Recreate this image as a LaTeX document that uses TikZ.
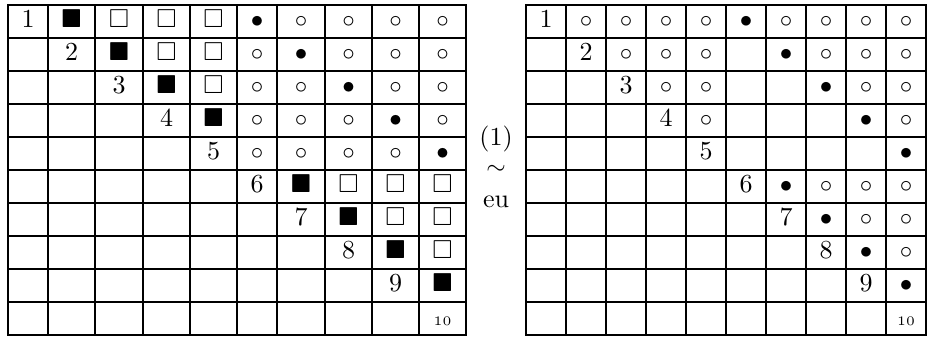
\documentclass[tikz,border=0pt]{standalone}
\usepackage{amssymb}
\newcommand\myB{$\blacksquare$}
\newcommand\myW{$\square$}
\newcommand\myb{$\bullet$}
\newcommand\myw{$\circ$}
\tikzset{
  gridline/.style={line width=0.7pt, line cap=rect},
  cell/.style={inner sep=0pt, anchor=base, font=\fontsize{10.4}{12}\selectfont},
  smallcell/.style={inner sep=0pt, anchor=base, font=\fontsize{5.2}{6}\selectfont},
  midtext/.style={inner sep=0pt, font=\fontsize{10.4}{12}\selectfont}
}
\begin{document}
\begin{tikzpicture}[x=0.4pt,y=-0.4pt]
\useasboundingbox (0,0) rectangle (928,340);
% left grid
\foreach \x in {8,48,95,143,190,237,277,325,372,419,466}
  \draw[gridline] (\x,5) -- (\x,335);
\foreach \k in {0,...,10}
  \draw[gridline] (8,{5+33*\k}) -- (466,{5+33*\k});
% right grid
\foreach \k in {0,...,10}
  \draw[gridline] ({526+40*\k},5) -- ({526+40*\k},335);
\foreach \k in {0,...,10}
  \draw[gridline] (526,{5+33*\k}) -- (926,{5+33*\k});
% left contents
\def\LX{{28,71.5,119,166.5,213.5,257,301,348.5,395.5,442.5}}
\foreach \r/\c/\s in {
  1/1/1, 1/2/\myB, 1/3/\myW, 1/4/\myW, 1/5/\myW, 1/6/\myb, 1/7/\myw, 1/8/\myw, 1/9/\myw, 1/10/\myw,
  2/2/2, 2/3/\myB, 2/4/\myW, 2/5/\myW, 2/6/\myw, 2/7/\myb, 2/8/\myw, 2/9/\myw, 2/10/\myw,
  3/3/3, 3/4/\myB, 3/5/\myW, 3/6/\myw, 3/7/\myw, 3/8/\myb, 3/9/\myw, 3/10/\myw,
  4/4/4, 4/5/\myB, 4/6/\myw, 4/7/\myw, 4/8/\myw, 4/9/\myb, 4/10/\myw,
  5/5/5, 5/6/\myw, 5/7/\myw, 5/8/\myw, 5/9/\myw, 5/10/\myb,
  6/6/6, 6/7/\myB, 6/8/\myW, 6/9/\myW, 6/10/\myW,
  7/7/7, 7/8/\myB, 7/9/\myW, 7/10/\myW,
  8/8/8, 8/9/\myB, 8/10/\myW,
  9/9/9, 9/10/\myB}{
  \pgfmathsetmacro\xx{\LX[\c-1]}
  \pgfmathsetmacro\yy{5+33*(\r-1)+22.3}
  \node[cell] (L\r-\c) at (\xx,\yy) {\s};
}
\node[smallcell] (L10-10) at (442.5,325) {10};
% right contents
\foreach \r/\c/\s in {
  1/1/1, 1/2/\myw, 1/3/\myw, 1/4/\myw, 1/5/\myw, 1/6/\myb, 1/7/\myw, 1/8/\myw, 1/9/\myw, 1/10/\myw,
  2/2/2, 2/3/\myw, 2/4/\myw, 2/5/\myw, 2/7/\myb, 2/8/\myw, 2/9/\myw, 2/10/\myw,
  3/3/3, 3/4/\myw, 3/5/\myw, 3/8/\myb, 3/9/\myw, 3/10/\myw,
  4/4/4, 4/5/\myw, 4/9/\myb, 4/10/\myw,
  5/5/5, 5/10/\myb,
  6/6/6, 6/7/\myb, 6/8/\myw, 6/9/\myw, 6/10/\myw,
  7/7/7, 7/8/\myb, 7/9/\myw, 7/10/\myw,
  8/8/8, 8/9/\myb, 8/10/\myw,
  9/9/9, 9/10/\myb}{
  \pgfmathsetmacro\xx{546+40*(\c-1)}
  \pgfmathsetmacro\yy{5+33*(\r-1)+22.3}
  \node[cell] (R\r-\c) at (\xx,\yy) {\s};
}
\node[smallcell] (R10-10) at (906,325) {10};
% middle text
\node[midtext, anchor=base] (eqn) at (496,145) {(1)};
\node[midtext] (sim) at (496,170) {$\sim$};
\node[midtext, anchor=base] (eu) at (496,207) {eu};
\end{tikzpicture}
\end{document}
